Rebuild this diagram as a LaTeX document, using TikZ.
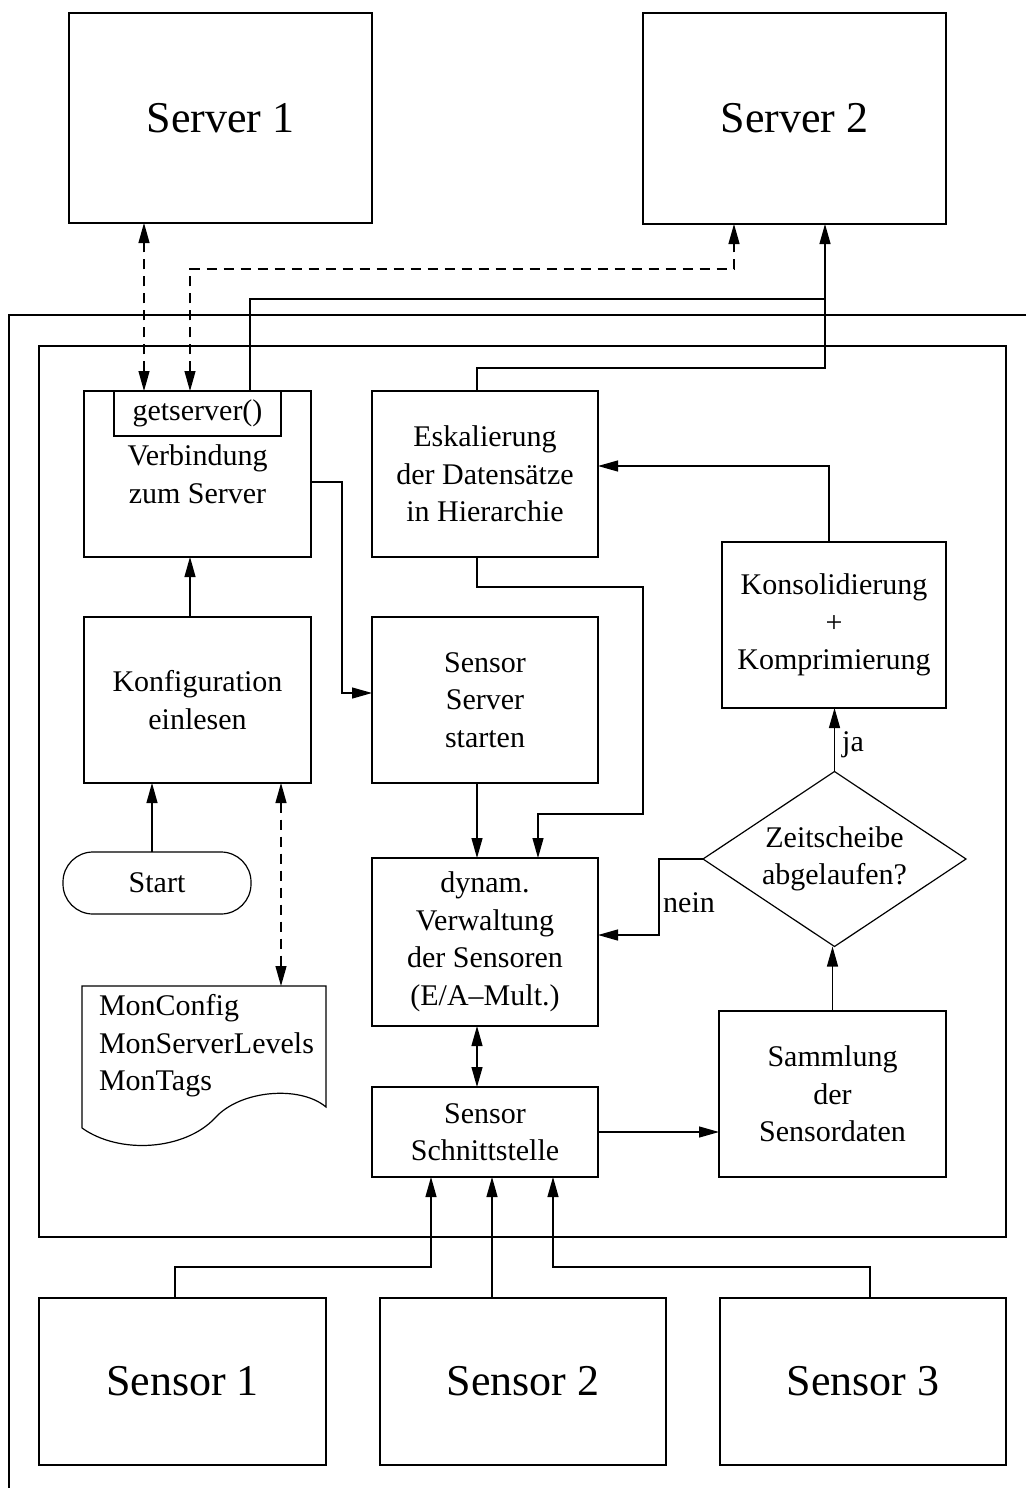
\documentclass[tikz,border=0pt]{standalone}
\usepackage{fontspec}
\setmainfont{Liberation Serif}
\usetikzlibrary{arrows.meta,shapes.geometric,calc}
\begin{document}
\begin{tikzpicture}[x=1pt,y=-1pt,line width=1.2pt,
  every node/.style={font=\fontsize{30}{37.5}\selectfont, inner sep=0pt, outer sep=0pt},
  box/.style={draw, minimum width=226, minimum height=166, align=center},
  bigbox/.style={draw, minimum width=303, minimum height=210, font=\fontsize{44}{52}\selectfont},
  tip/.tip={Triangle[length=20pt,width=11pt]},
  arr/.style={-tip},
  barr/.style={tip-tip},
  dashedarr/.style={tip-tip, dash pattern=on 10pt off 7pt},
]
\useasboundingbox (0,0) rectangle (1026,1488);

% servers
\node[bigbox] (s1) at (220.5,118) {Server 1};
\node[bigbox, minimum height=211] (s2) at (794.5,118.5) {Server 2};

% frames
\draw (1026,315) -- (9,315) -- (9,1488);
\draw (39,346) rectangle (1006,1237);

% process boxes
\node[box, minimum width=227] (verb) at (197.5,474) {Verbindung\\zum Server};
\node[draw, minimum width=167, minimum height=45, anchor=north] (gets) at (verb.north) {getserver()};
\node[box] (esk) at (485,474) {Eskalierung\\der Datensätze\\in Hierarchie};
\node[box, minimum width=227] (konf) at (197.5,700) {Konfiguration\\einlesen};
\node[box] (sss) at (485,700) {Sensor\\Server\\starten};
\node[box, minimum width=224] (kons) at (834,625) {Konsolidierung\\+\\Komprimierung};
\node[diamond, draw, aspect=1.503, minimum width=263, minimum height=175, align=center] (zeit) at (834.5,859) {Zeitscheibe\\abgelaufen?};
\node[draw, rounded corners=30, minimum width=188, minimum height=62] (start) at (157,883) {Start};
\node[box, minimum height=168] (verw) at (485,942) {dynam.\\Verwaltung\\der Sensoren\\(E/A–Mult.)};
\node[box, minimum height=90] (schn) at (485,1132) {Sensor\\Schnittstelle};
\node[box, minimum width=227] (samm) at (832.5,1094) {Sammlung\\der\\Sensordaten};

% configuration files (document shape)
\node[minimum width=244, minimum height=142] (doc) at (204,1057) {};
\draw (doc.south west) -- (doc.north west) -- (doc.north east) -- (326,1107)
  .. controls (300,1085) and (240,1090) .. (215,1118)
  .. controls (185,1150) and (120,1155) .. (doc.south west);
\node[anchor=west, align=left] (doctext) at (99,1046) {MonConfig\\MonServerLevels\\MonTags};

% sensors
\node[bigbox, minimum width=287, minimum height=167] (sen1) at (182.5,1381.5) {Sensor 1};
\node[bigbox, minimum width=286, minimum height=167] (sen2) at (523,1381.5) {Sensor 2};
\node[bigbox, minimum width=286, minimum height=167] (sen3) at (863,1381.5) {Sensor 3};

% labels
\node (ja) at (853,745) {ja};
\node (nein) at (689,903) {nein};

% connections to the servers
\draw[dashedarr] ([xshift=-53.5]gets.north) -- ([xshift=-53.5]gets.north |- s1.south);
\draw[dashedarr] ([xshift=-7.5]gets.north) |- ($([xshift=-60.5]s2.south)+(0,45)$) -- ([xshift=-60.5]s2.south);
\draw ([xshift=52.5]gets.north) |- ($([xshift=30.5]s2.south)+(0,75)$);
\draw[arr] ([xshift=-8]esk.north) |- ($([xshift=30.5]s2.south)+(0,144)$) -- ([xshift=30.5]s2.south);

% flow inside the node
\draw[arr] ([yshift=-8]verb.east) -- ++(31,0) |- ([yshift=7]sss.west);
\draw[arr] ([xshift=-7.5]konf.north) -- ([xshift=-7.5]verb.south);
\draw[arr] ([xshift=-5]start.north) -- ([xshift=-5]start.north |- konf.south);
\draw[dashedarr] ([xshift=83.5]konf.south) -- ([xshift=83.5]konf.south |- doc.north);
\draw[arr] ([xshift=-8]sss.south) -- ([xshift=-8]verw.north);
\draw[arr] ([xshift=-8]esk.south) -- ++(0,30) -| ($(esk.south)+(158,257)$) -| ([xshift=53]verw.north);
\draw[arr] ([xshift=-5]kons.north) |- ([yshift=8]esk.east);
\draw[arr] (zeit.north) -- (zeit.north |- kons.south);
\draw[arr] (zeit.west) -- ++(-44,0) |- ([yshift=7]verw.east);
\draw[arr] (samm.north) -- (samm.north |- zeit.south);
\draw[barr] ([xshift=-8]verw.south) -- ([xshift=-8]schn.north);
\draw[arr] (schn.east) -- (schn.east -| samm.west);

% sensor inputs
\draw[arr] ([xshift=-7.5]sen1.north) -- ++(0,-31) -| ([xshift=-54]schn.south);
\draw[arr] ([xshift=-31]sen2.north) -- ([xshift=-31]sen2.north |- schn.south);
\draw[arr] ([xshift=7]sen3.north) -- ++(0,-31) -| ([xshift=68]schn.south);
\end{tikzpicture}
\end{document}
